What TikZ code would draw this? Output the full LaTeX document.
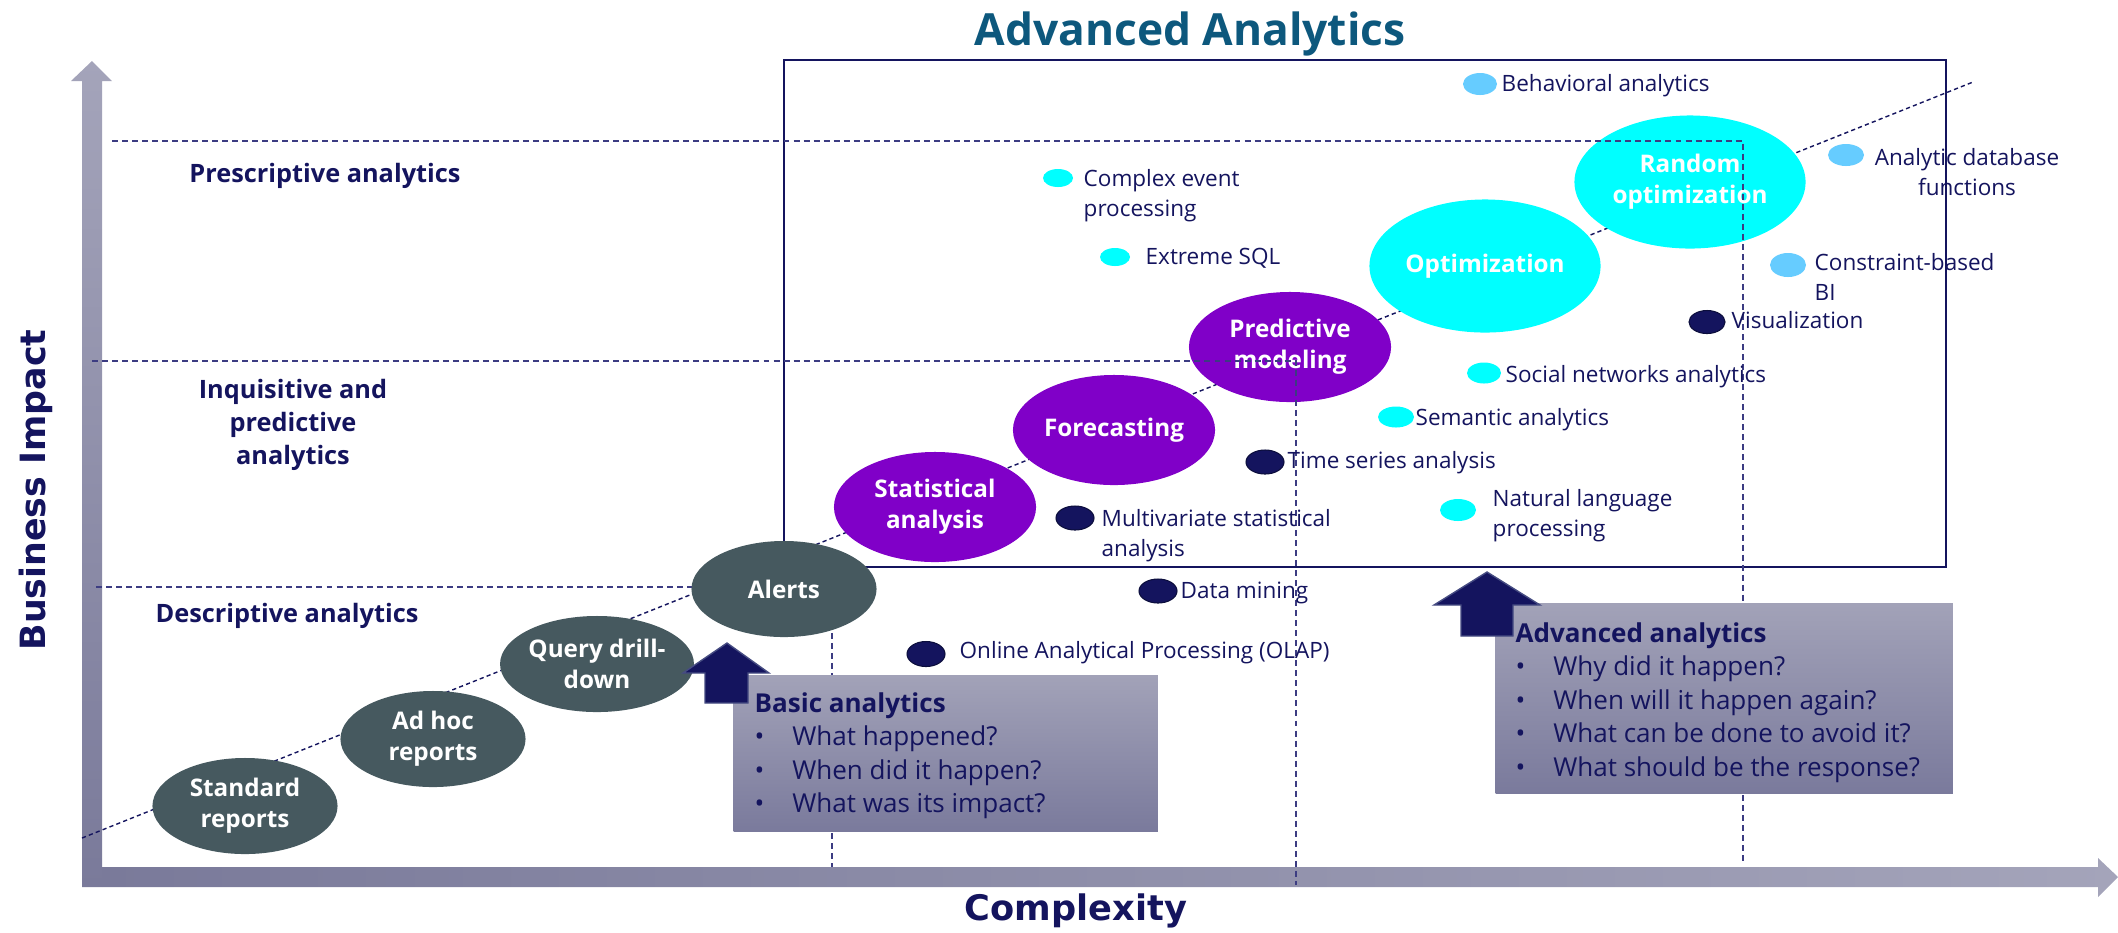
\documentclass[tikz,border=0pt]{standalone}
\usepackage{fontspec}
\setmainfont{Open Sans}
\newfontfamily\axisfont{DejaVu Sans}
\usepackage{xcolor}
\usepackage{tikz}
\usetikzlibrary{shapes,calc}

\definecolor{inknavy}{RGB}{20,20,94}
\definecolor{inkdeep}{RGB}{12,14,60}
\definecolor{titleblue}{RGB}{13,88,125}
\definecolor{slate}{RGB}{70,89,95}
\definecolor{violetb}{RGB}{128,0,200}
\definecolor{aqua}{RGB}{0,255,255}
\definecolor{skyb}{RGB}{102,204,255}
\definecolor{axislight}{RGB}{164,164,186}
\definecolor{axisdark}{RGB}{122,122,154}
\definecolor{boxtop}{RGB}{162,162,184}
\definecolor{boxbot}{RGB}{122,122,156}
\definecolor{gridcol}{RGB}{60,60,130}
\definecolor{arrowedge}{RGB}{70,76,130}

\newcommand{\qbul}{\makebox[10.7pt][l]{\textbullet}}

\begin{document}
\begin{tikzpicture}[x=0.01cm,y=-0.01cm]
        % Styles for bubbles, dots, labels and boxes
        \tikzstyle{bub}=[ellipse, inner sep=0pt, outer sep=0pt, text=white, align=center, font=\bfseries\fontsize{6.9}{8.8}\selectfont]
        \tikzstyle{basebub}=[bub, fill=slate, minimum width=1.85cm, minimum height=0.96cm]
        \tikzstyle{predbub}=[bub, fill=violetb, minimum width=2.02cm, minimum height=1.1cm]
        \tikzstyle{optbub}=[bub, fill=aqua, minimum width=2.31cm, minimum height=1.33cm]
        \tikzstyle{dot}=[ellipse, inner sep=0pt, outer sep=0pt, minimum width=0.36cm, minimum height=0.22cm]
        \tikzstyle{navydot}=[dot, fill=inknavy, draw=inkdeep, line width=0.3pt, minimum width=0.38cm, minimum height=0.24cm]
        \tikzstyle{cyandot}=[dot, fill=aqua]
        \tikzstyle{skydot}=[dot, fill=skyb]
        \tikzstyle{lbl}=[anchor=west, inner sep=0pt, text=inknavy, align=left, font=\fontsize{6.4}{8.5}\selectfont]
        \tikzstyle{region}=[inner sep=0pt, text=inknavy, align=center, font=\bfseries\fontsize{7.2}{9.4}\selectfont]
        \tikzstyle{qbox}=[anchor=north west, inner sep=0pt, top color=boxtop, bottom color=boxbot]
        \tikzstyle{boxtxt}=[anchor=north west, inner sep=0pt, text=inknavy, align=left, font=\fontsize{7.4}{9.5}\selectfont]
        \tikzstyle{gridln}=[gridcol, line width=0.45pt, dash pattern=on 1.7pt off 1.15pt]
        \tikzstyle{trend}=[inknavy, line width=0.4pt, dash pattern=on 1.2pt off 0.9pt]
        \tikzstyle{uparrow}=[fill=inknavy, draw=arrowedge, line width=0.4pt]

        \useasboundingbox (0,0) rectangle (2118,932);

        % Axes
        \shade[top color=axislight, bottom color=axisdark] (82,887) -- (82,81) -- (71,81) -- (92,61) -- (112,81) -- (102,81) -- (102,887) -- cycle;
        \shade[left color=axisdark, right color=axislight] (102,867) -- (2098,867) -- (2098,858) -- (2118,877) -- (2098,897) -- (2098,887) -- (102,887) -- cycle;
        \node[rotate=90, anchor=base, text=inknavy, font=\axisfont\bfseries\fontsize{9.9}{12}\selectfont] (yaxlbl) at (45,490) {Business Impact};
        \node[anchor=base, text=inknavy, font=\axisfont\bfseries\fontsize{10}{12}\selectfont] (xaxlbl) at (1076,920) {Complexity};

        % Trend line behind the bubbles
        \coordinate (trendS) at (82,838);
        \coordinate (trendE) at (1973,82);
        \draw[trend] (trendS) -- (trendE);

        % Lowest level line (hidden by Alerts)
        \draw[gridln] (96,587) -- (832,587) -- (832,867);

        % Advanced Analytics frame and title
        \draw[inknavy, line width=0.75pt] (784,60) rectangle (1946,567);
        \node[anchor=base, text=titleblue, font=\bfseries\fontsize{12.6}{15}\selectfont] (title) at (1190,45) {Advanced Analytics};

        % Bubbles along the trend
        \node[basebub] (std) at (245,806) {Standard\\reports};
        \node[basebub] (adhoc) at (433,739) {Ad hoc\\reports};
        \node[basebub] (query) at (597,664) {Query drill-\\down};
        \node[basebub] (alerts) at (784,589) {Alerts};
        \node[predbub] (stat) at (935,507) {Statistical\\analysis};
        \node[predbub] (fore) at (1114,430) {Forecasting};
        \node[predbub] (pred) at (1290,347) {Predictive\\modeling};
        \node[optbub] (optim) at (1485,266) {Optimization};
        \node[optbub] (rand) at (1690,182) {Random\\optimization};

        % Level lines over the bubbles
        \draw[gridln] (112,141) -- (1743,141) -- (1743,864);
        \draw[gridln] (92,361) -- (1296,361) -- (1296,885);

        % Level names
        \node[region, anchor=base] (presc) at (325,182) {Prescriptive analytics};
        \node[region] (inqui) at (293,425) {Inquisitive and\\predictive\\analytics};
        \node[region, anchor=base] (descr) at (287,622) {Descriptive analytics};

        % Dots with their labels
        \node[skydot, minimum width=0.34cm] (behav) at (1480,84) {};
        \node[lbl] (behavt) at (1501,86) {Behavioral analytics};
        \node[cyandot, minimum width=0.30cm, minimum height=0.18cm] (cep) at (1058,178) {};
        \node[lbl] (cept) at (1083,196) {Complex event\\processing};
        \node[cyandot, minimum width=0.30cm, minimum height=0.18cm] (xsql) at (1115,257) {};
        \node[lbl] (xsqlt) at (1145,258) {Extreme SQL};
        \node[skydot] (adb) at (1846,155) {};
        \node[lbl, anchor=center, align=center] (adbt) at (1967,172) {Analytic database\\functions};
        \node[skydot, minimum height=0.24cm] (cbi) at (1788,265) {};
        \node[lbl] (cbit) at (1814,277) {Constraint-based\\BI};
        \node[navydot, minimum width=0.36cm, minimum height=0.23cm] (vis) at (1707,322) {};
        \node[lbl] (vist) at (1731,320) {Visualization};
        \node[cyandot, minimum width=0.34cm, minimum height=0.21cm] (sna) at (1484,373) {};
        \node[lbl] (snat) at (1505,377) {Social networks analytics};
        \node[cyandot, minimum height=0.21cm] (sem) at (1396,417) {};
        \node[lbl] (semt) at (1415,420) {Semantic analytics};
        \node[navydot] (tsa) at (1265,462) {};
        \node[lbl] (tsat) at (1287,463) {Time series analysis};
        \node[navydot] (mva) at (1075,518) {};
        \node[lbl] (mvat) at (1101,536) {Multivariate statistical\\analysis};
        \node[cyandot] (nlp) at (1458,510) {};
        \node[lbl] (nlpt) at (1492,516) {Natural language\\processing};
        \node[navydot] (dmin) at (1158,591) {};
        \node[lbl] (dmint) at (1180,593) {Data mining};
        \node[navydot, minimum height=0.25cm] (olap) at (926,654) {};
        \node[lbl] (olapt) at (959,653) {Online Analytical Processing (OLAP)};

        % Question boxes
        \node[qbox, minimum width=4.24cm, minimum height=1.56cm] (basicbox) at (733,675) {};
        \node[qbox, minimum width=4.57cm, minimum height=1.90cm] (advbox) at (1495,603) {};

        % Block arrows pointing up
        \filldraw[uparrow] (727,643) -- (769,673) -- (748,673) -- (748,703) -- (705,703) -- (705,673) -- (683,673) -- cycle;
        \filldraw[uparrow] (1487,572) -- (1540,605) -- (1513,605) -- (1513,636) -- (1461,636) -- (1461,605) -- (1434,605) -- cycle;

        % Box texts
        \node[boxtxt] (basict) at (754,692) {\textbf{Basic analytics}\\\qbul What happened?\\\qbul When did it happen?\\\qbul What was its impact?};
        \node[boxtxt] (advt) at (1515,622) {\textbf{Advanced analytics}\\\qbul Why did it happen?\\\qbul When will it happen again?\\\qbul What can be done to avoid it?\\\qbul What should be the response?};

    \end{tikzpicture}
\end{document}
